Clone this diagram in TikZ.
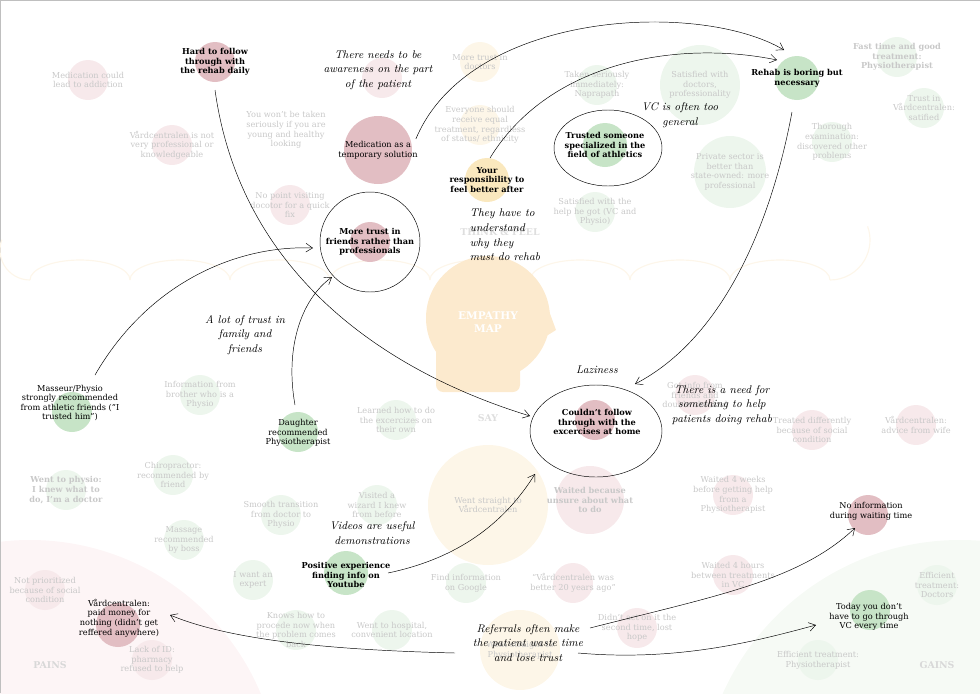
\documentclass[tikz,border=0pt]{standalone}
\usepackage{fontspec}
\setmainfont{DejaVu Serif}
\newfontfamily\handfont{Latin Modern Roman}
\usetikzlibrary{arrows.meta,shapes.geometric}
\definecolor{pinkC}{RGB}{226,190,195}
\definecolor{pinkF}{RGB}{247,233,235}
\definecolor{greenC}{RGB}{199,228,199}
\definecolor{greenF}{RGB}{237,246,237}
\definecolor{yellowC}{RGB}{250,232,190}
\definecolor{yellowF}{RGB}{253,246,232}
\definecolor{fadeT}{RGB}{200,200,200}
\definecolor{painsC}{RGB}{253,245,246}
\definecolor{gainsC}{RGB}{246,250,245}
\definecolor{headC}{RGB}{252,234,206}
\definecolor{cloudC}{RGB}{253,246,234}
\tikzset{
  txt/.style={align=center,font=\fontsize{7}{8.2}\selectfont,inner sep=0pt},
  bold/.style={txt,font=\fontsize{7}{8.2}\selectfont\bfseries},
  fade/.style={txt,text=fadeT},
  hand/.style={align=center,font=\handfont\itshape\fontsize{9.5}{12.5}\selectfont,inner sep=0pt},
  ring/.style={draw,ellipse,thin,inner sep=0pt},
  link/.style={thin,-{Straight Barb[length=2mm,width=2.6mm]}},
}
\begin{document}
\begin{tikzpicture}[x=0.03cm,y=-0.03cm]
\useasboundingbox (0,0) rectangle (980,693);
\begin{scope}
\clip (0,0) rectangle (980,693);
\fill[painsC] (30,790) circle (250*0.03cm);
\fill[gainsC] (960,800) circle (260*0.03cm);
\end{scope}
\draw[gray!50] (0,693) -- (0,0) -- (980,0);

% cloud of think and feel
\foreach \cx in {80,180,280,380,480,580,680,780}
  \draw[cloudC,line width=1pt] (\cx-50,280) arc (180:0:50*0.03cm and 20*0.03cm);
\draw[cloudC,line width=1pt] (30,280) arc (270:160:30*0.03cm);
\draw[cloudC,line width=1pt] (830,280) arc (270:380:40*0.03cm);

% head
\fill[headC] (488,318) circle (62*0.03cm);
\fill[headC,rounded corners=6pt] (436,330) rectangle (520,392);
\fill[headC] (545,300) -- (556,330) -- (540,340) -- cycle;
\fill[yellowF] (488,505) circle (60*0.03cm);
\fill[yellowF] (520,650) circle (40*0.03cm);
\node[bold,text=white,font=\fontsize{9}{11}\selectfont\bfseries] (empathy) at (488,322) {EMPATHY\\MAP};
\node[bold,text=fadeT!60,font=\fontsize{8}{10}\selectfont\bfseries] (thinkfeel) at (500,232) {THINK \& FEEL};
\node[bold,text=fadeT!60,font=\fontsize{8}{10}\selectfont\bfseries] (say) at (488,418) {SAY};
\node[bold,text=fadeT!70,font=\fontsize{8}{10}\selectfont\bfseries] (pains) at (50,665) {PAINS};
\node[bold,text=fadeT!70,font=\fontsize{8}{10}\selectfont\bfseries] (gains) at (937,665) {GAINS};

% faint background notes
\foreach \x/\y/\r/\c/\t in {
  88/80/20/pinkF/{Medication could\\lead to addiction},
  172/145/20/pinkF/{Vårdcentralen is not\\very professional or\\knowledgeable},
  290/205/20/pinkF/{No point visiting\\docotor for a quick\\fix},
  382/78/20/pinkF/{},
  45/590/20/pinkF/{Not prioritized\\because of social\\condition},
  152/660/20/pinkF/{Lack of ID:\\pharmacy\\refused to help},
  573/583/20/pinkF/{“Vårdcentralen was\\better 20 years ago”},
  733/495/20/pinkF/{Waited 4 weeks\\before getting help\\from a\\Physiotherapist},
  733/575/20/pinkF/{Waited 4 hours\\between treatments\\in VC},
  637/628/20/pinkF/{Didn't act on it the\\second time, lost\\hope},
  812/430/20/pinkF/{Treated differently\\because of social\\condition},
  916/425/20/pinkF/{Vårdcentralen:\\advice from wife},
  695/395/20/pinkF/{Got info from\\friends and\\double checked},
  597/85/20/greenF/{Taken seriously\\immediately:\\Naprapath},
  595/212/20/greenF/{Satisfied with the\\help he got (VC and\\Physio)},
  924/108/20/greenF/{Trust in\\Vårdcentralen:\\satified},
  832/142/20/greenF/{Thorough\\examination:\\discovered other\\problems},
  200/395/20/greenF/{Information from\\brother who is a\\Physio},
  173/475/20/greenF/{Chiropractor:\\recommended by\\friend},
  184/540/20/greenF/{Massage\\recommended\\by boss},
  281/515/20/greenF/{Smooth transition\\from doctor to\\Physio},
  396/420/20/greenF/{Learned how to do\\the excercizes on\\their own},
  253/580/20/greenF/{I want an\\expert},
  296/630/20/greenF/{Knows how to\\procede now when\\the problem comes\\back},
  392/630/20/greenF/{Went to hospital,\\convenient location},
  466/583/20/greenF/{Find information\\on Google},
  937/585/20/greenF/{Efficient\\treatment:\\Doctors},
  818/660/20/greenF/{Efficient treatment:\\Physiotherapist},
  377/505/20/greenF/{Visited a\\wizard I knew\\from before},
  480/62/20/yellowF/{More trust in\\doctors},
  480/125/20/yellowF/{Everyone should\\receive equal\\treatment, regardless\\of status/ ethnicity},
  488/505/0/yellowF/{Went straight to\\Vårdcentralen},
  520/650/0/yellowF/{Went straight to\\Physiotherapist}}
{
  \fill[\c] (\x,\y) circle (\r*0.03cm);
  \node[fade] at (\x,\y) {\t};
}
\fill[greenF] (700,85) circle (40*0.03cm);
\node[fade] (satdoc) at (700,85) {Satisfied with\\doctors,\\professionality};
\fill[greenF] (730,172) circle (36*0.03cm);
\node[fade] (private) at (730,172) {Private sector is\\better than\\state-owned: more\\professional};
\fill[greenF] (897,57) circle (20*0.03cm);
\node[fade,font=\fontsize{7}{8.2}\selectfont\bfseries] (fasttime) at (897,57) {Fast time and good\\treatment:\\Physiotherapist};
\fill[greenF] (66,490) circle (20*0.03cm);
\node[fade,font=\fontsize{7}{8.2}\selectfont\bfseries] (wentphysio) at (66,490) {Went to physio:\\I knew what to\\do, I'm a doctor};
\fill[pinkF] (590,500) circle (34*0.03cm);
\node[fade,font=\fontsize{7}{8.2}\selectfont\bfseries] (waited) at (590,500) {Waited because\\unsure about what\\to do};
\node[fade] (youngmsg) at (286,130) {You won't be taken\\seriously if you are\\young and healthy\\looking};

% main notes
\fill[pinkC] (215,62) circle (20*0.03cm);
\node[bold] (hard) at (215,62) {Hard to follow\\through with\\the rehab daily};
\fill[pinkC] (378,150) circle (34*0.03cm);
\node[txt] (medic) at (378,150) {Medication as a\\temporary solution};
\fill[pinkC] (370,242) circle (20*0.03cm);
\node[bold] (trustfr) at (370,242) {More trust in\\friends rather than\\professionals};
\draw (370,242) circle (50*0.03cm);
\coordinate (trustW) at (313,248);
\coordinate (trustS) at (332,277);
\fill[yellowC] (487,180) circle (22*0.03cm);
\node[bold] (resp) at (487,180) {Your\\responsibility to\\feel better after};
\fill[greenC] (605,145) circle (22*0.03cm);
\node[bold] (athl) at (605,145) {Trusted someone\\specialized in the\\field of athletics};
\draw (608,148) ellipse (54*0.03cm and 38*0.03cm);
\fill[greenC] (797,78) circle (22*0.03cm);
\node[bold] (rehab) at (797,78) {Rehab is boring but\\necessary};
\fill[pinkC] (595,420) circle (20*0.03cm);
\node[bold] (couldnt) at (597,422) {Couldn't follow\\through with the\\excercises at home};
\draw (596,431) ellipse (66*0.03cm and 46*0.03cm);
\fill[greenC] (72,412) circle (20*0.03cm);
\node[txt] (masseur) at (70,403) {Masseur/Physio\\strongly recommended\\from athletic friends ("I\\trusted him")};
\fill[greenC] (298,432) circle (20*0.03cm);
\node[txt] (daughter) at (298,433) {Daughter\\recommended\\Physiotherapist};
\fill[greenC] (346,573) circle (22*0.03cm);
\node[bold] (youtube) at (346,575) {Positive experience\\finding info on\\Youtube};
\fill[pinkC] (118,625) circle (22*0.03cm);
\node[txt] (vard) at (119,618) {Vårdcentralen:\\paid money for\\nothing (didn't get\\reffered anywhere)};
\fill[pinkC] (868,515) circle (20*0.03cm);
\node[txt] (noinfo) at (871,511) {No information\\during waiting time};
\fill[greenC] (870,610) circle (20*0.03cm);
\node[txt] (today) at (869,617) {Today you don't\\have to go through\\VC every time};

% handwritten comments
\node[hand] (aware) at (378,70) {There needs to be\\awareness on the part\\of the patient};
\node[hand,align=left] (understand) at (505,235) {They have to\\understand\\why they\\must do rehab};
\node[hand] (general) at (680,115) {VC is often too\\general};
\node[hand] (trustfam) at (245,335) {A lot of trust in\\family and\\friends};
\node[hand] (laziness) at (597,370) {Laziness};
\node[hand] (needhelp) at (722,405) {There is a need for\\something to help\\patients doing rehab};
\node[hand] (videos) at (372,533) {Videos are useful\\demonstrations};
\node[hand] (referrals) at (528,643) {Referrals often make\\the patient waste time\\and lose trust};

% connectors
\draw[link] (medic.north east) ++(-2,-2) .. controls (470,10) and (700,0) .. (784,50);
\draw[link] (490,158) .. controls (550,60) and (680,40) .. (777,60);
\draw[link] (215,90) .. controls (240,270) and (380,370) .. (530,416);
\draw[link] (792,112) .. controls (770,230) and (720,340) .. (635,384);
\draw[link] (95,375) .. controls (150,280) and (240,245) .. (trustW);
\draw[link] (295,405) .. controls (285,350) and (300,300) .. (trustS);
\draw[link] (388,573) .. controls (450,560) and (500,530) .. (535,474);
\draw[link] (455,653) .. controls (330,650) and (230,640) .. (170,615);
\draw[link] (590,628) .. controls (720,595) and (800,580) .. (855,528);
\draw[link] (578,653) .. controls (680,662) and (760,640) .. (816,625);
\end{tikzpicture}
\end{document}
